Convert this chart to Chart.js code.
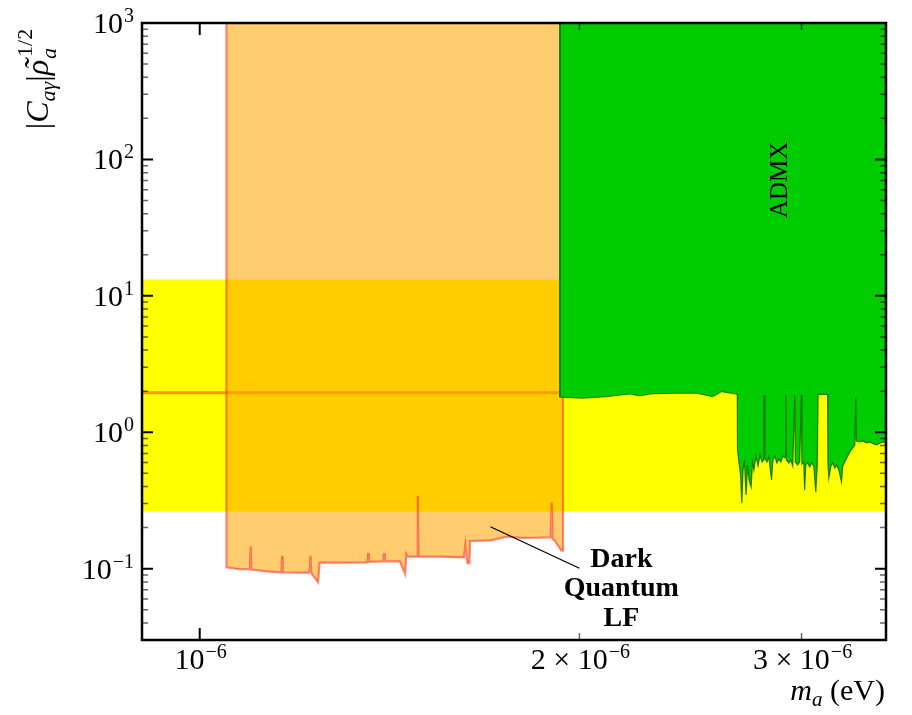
<!DOCTYPE html>
<html>
<head>
<meta charset="utf-8">
<script src="https://cdn.jsdelivr.net/npm/chart.js@4.4.1/dist/chart.umd.min.js"></script>
<style>
  html, body { margin: 0; padding: 0; background: #fff; }
  #wrap { width: 912px; height: 715px; }
</style>
</head>
<body>
<div id="wrap"><canvas id="c" width="912" height="715"></canvas></div>
<script>
'use strict';
// ---- axis ranges (eV on x, coupling on y) ----
const X_MIN = 9.0e-7, X_MAX = 3.5e-6;
const Y_MIN = 0.03, Y_MAX = 1000;

// ---- tick labels ----
const yTickValues = [0.1, 1, 10, 100, 1000];
const yTickExps   = ['\u22121', '0', '1', '2', '3'];
const xTickValues = [1e-6, 2e-6, 3e-6];
const xTickPrefix = ['', '2 \u00d7 ', '3 \u00d7 '];
const xTickExps   = ['\u22126', '\u22126', '\u22126'];
const xTickMajor  = [true, false, false];

// ---- yellow band ----
const bandMass = [8.0e-7, 4.0e-6];
const bandTop = [13.2, 13.2];
const bandBottom = 0.262;

// ---- horizontal limit line ----
const hlineMass = [8.0e-7, 1.941e-6];
const hlineCoupling = [1.95, 1.95];

// ---- Dark Quantum LF exclusion (lower edge, filled upward) ----
const dqMass = [1.050e-6, 1.050e-6, 1.075e-6, 1.096e-6, 1.0975e-6, 1.099e-6, 1.130e-6, 1.161e-6, 1.1622e-6,
  1.1635e-6, 1.200e-6, 1.222e-6, 1.2241e-6, 1.226e-6, 1.234e-6, 1.2411e-6, 1.2448e-6, 1.300e-6, 1.358e-6,
  1.360e-6, 1.362e-6, 1.398e-6, 1.400e-6, 1.402e-6, 1.441e-6, 1.455e-6, 1.458e-6, 1.462e-6, 1.487e-6,
  1.489e-6, 1.491e-6, 1.550e-6, 1.620e-6, 1.624e-6, 1.630e-6, 1.636e-6, 1.638e-6, 1.700e-6, 1.752e-6,
  1.800e-6, 1.860e-6, 1.898e-6, 1.901e-6, 1.904e-6, 1.912e-6, 1.935e-6, 1.941e-6, 1.941e-6];
const dqCoupling = [1000, 0.1023, 0.0990, 0.0990, 0.145, 0.0985, 0.0955, 0.0941, 0.1245,
  0.0941, 0.0935, 0.0935, 0.124, 0.0925, 0.0855, 0.0795, 0.1107, 0.1107, 0.111,
  0.1297, 0.112, 0.113, 0.1297, 0.1135, 0.113, 0.0916, 0.128, 0.1225, 0.1225,
  0.341, 0.1225, 0.1225, 0.121, 0.149, 0.1096, 0.1096, 0.1596, 0.161, 0.1717,
  0.168, 0.1687, 0.170, 0.305, 0.165, 0.1604, 0.1355, 0.1355, 1000];

// ---- ADMX: broad run (edge near 1.8-1.9) ----
const admxAMass = [1.930e-6, 1.930e-6, 2.012e-6, 2.101e-6, 2.193e-6, 2.234e-6, 2.275e-6, 2.372e-6, 2.477e-6,
  2.551e-6, 2.593e-6, 2.668e-6, 2.798e-6, 2.911e-6, 2.972e-6, 3.140e-6, 3.217e-6, 3.312e-6, 3.398e-6,
  3.504e-6, 3.557e-6];
const admxACoupling = [1000, 1.806, 1.776, 1.824, 1.909, 1.845, 1.909, 1.932, 1.932,
  1.824, 1.985, 1.899, 1.845, 1.845, 1.899, 1.899, 1.966, 1.794, 1.877,
  1.877, 1.877];

// ---- ADMX: deep run 2.67-3.5 ueV ----
const admxBMass = [2.668e-6, 2.669e-6, 2.676e-6, 2.684e-6, 2.690e-6, 2.696e-6, 2.703e-6, 2.711e-6, 2.718e-6,
  2.726e-6, 2.736e-6, 2.743e-6, 2.750e-6, 2.760e-6, 2.771e-6, 2.781e-6, 2.791e-6, 2.799e-6, 2.801e-6,
  2.805e-6, 2.806e-6, 2.816e-6, 2.826e-6, 2.840e-6, 2.847e-6, 2.857e-6, 2.868e-6, 2.878e-6, 2.889e-6,
  2.899e-6, 2.913e-6, 2.915e-6, 2.918e-6, 2.931e-6, 2.942e-6, 2.952e-6, 2.963e-6, 2.966e-6, 2.979e-6,
  2.990e-6, 2.999e-6, 3.002e-6, 3.012e-6, 3.017e-6, 3.023e-6, 3.034e-6, 3.045e-6, 3.056e-6, 3.068e-6,
  3.079e-6, 3.087e-6, 3.092e-6, 3.146e-6, 3.148e-6, 3.153e-6, 3.165e-6, 3.176e-6, 3.188e-6, 3.199e-6,
  3.211e-6, 3.227e-6, 3.234e-6, 3.246e-6, 3.258e-6, 3.276e-6, 3.294e-6, 3.306e-6, 3.312e-6, 3.315e-6,
  3.336e-6, 3.355e-6, 3.379e-6, 3.398e-6, 3.423e-6, 3.442e-6, 3.461e-6, 3.486e-6, 3.512e-6, 3.557e-6];
const admxBCoupling = [1.899, 0.742, 0.606, 0.486, 0.303, 0.529, 0.626, 0.347, 0.576,
  0.447, 0.397, 0.606, 0.529, 0.670, 0.566, 0.682, 0.606, 0.626, 1.845,
  1.845, 0.648, 0.606, 0.659, 0.447, 0.626, 0.670, 0.596, 0.637, 0.606,
  0.670, 0.648, 1.877, 0.626, 0.596, 0.626, 0.566, 1.877, 0.606, 0.576,
  0.606, 1.877, 0.586, 0.606, 0.376, 0.576, 0.596, 0.557, 0.596, 0.566,
  0.365, 0.576, 1.899, 1.899, 0.606, 0.462, 0.566, 0.596, 0.547, 0.576,
  0.529, 0.432, 0.566, 0.606, 0.648, 0.717, 0.767, 0.807, 1.794, 0.864,
  0.849, 0.864, 0.835, 0.849, 0.821, 0.807, 0.835, 0.849, 0.821, 0.835];

// ---- annotations (data coords) ----
const admxLabelAt = [2.884e-6, 70.8];
const dqLabelLines = ['Dark', 'Quantum', 'LF'];
const dqLabelAt = [2.159e-6, 0.103];
const dqLeader = [[1.70e-6, 0.203], [2.0e-6, 0.1007]];

const pts = (xs, ys) => xs.map((x, i) => ({ x: x, y: ys[i] }));
const SERIF = '"Liberation Serif", "Times New Roman", serif';
const fnt = (size, style) => (style ? style + ' ' : '') + size + 'px ' + SERIF;

// draw "prefix10^exp" with a raised exponent
function drawPow(ctx, prefix, exp, x, baseline, align) {
  ctx.font = fnt(30);
  const w1 = ctx.measureText(prefix + '10').width;
  ctx.font = fnt(20);
  const w2 = ctx.measureText(exp).width;
  const total = w1 + 1 + w2;
  const x0 = align === 'right' ? x - total : x - total / 2;
  ctx.textAlign = 'left';
  ctx.font = fnt(30); ctx.fillText(prefix + '10', x0, baseline);
  ctx.font = fnt(20); ctx.fillText(exp, x0 + w1 + 1, baseline - 11);
}

const decor = {
  id: 'decor',
  afterDraw(chart) {
    const ctx = chart.ctx, a = chart.chartArea;
    const xs = chart.scales.x, ys = chart.scales.y;
    ctx.save();
    ctx.fillStyle = '#000';
    ctx.textBaseline = 'alphabetic';

    // minor y ticks (2..9 in each decade)
    ctx.strokeStyle = 'rgba(0,0,0,0.6)';
    ctx.lineWidth = 1.5;
    for (let d = -2; d <= 2; d++) {
      for (let k = 2; k <= 9; k++) {
        const v = k * Math.pow(10, d);
        if (v <= Y_MIN || v >= Y_MAX) continue;
        const py = ys.getPixelForValue(v);
        ctx.beginPath();
        ctx.moveTo(a.left, py); ctx.lineTo(a.left + 6, py);
        ctx.moveTo(a.right, py); ctx.lineTo(a.right - 6, py);
        ctx.stroke();
      }
    }
    // major y ticks + labels
    ctx.strokeStyle = '#000';
    ctx.lineWidth = 2;
    yTickValues.forEach((v, i) => {
      const py = ys.getPixelForValue(v);
      ctx.beginPath();
      ctx.moveTo(a.left, py); ctx.lineTo(a.left + 11, py);
      ctx.moveTo(a.right, py); ctx.lineTo(a.right - 11, py);
      ctx.stroke();
      drawPow(ctx, '', yTickExps[i], 134, py + 10, 'right');
    });
    // x ticks + labels
    xTickValues.forEach((v, i) => {
      const px = xs.getPixelForValue(v);
      const len = xTickMajor[i] ? 12 : 7;
      ctx.strokeStyle = xTickMajor[i] ? '#000' : 'rgba(0,0,0,0.6)';
      ctx.lineWidth = xTickMajor[i] ? 2 : 1.5;
      ctx.beginPath();
      ctx.moveTo(px, a.bottom); ctx.lineTo(px, a.bottom - len);
      ctx.moveTo(px, a.top); ctx.lineTo(px, a.top + len);
      ctx.stroke();
      drawPow(ctx, xTickPrefix[i], xTickExps[i], px + 1, 669, 'center');
    });

    // frame
    ctx.strokeStyle = '#000';
    ctx.lineWidth = 2.5;
    ctx.strokeRect(a.left, a.top, a.right - a.left, a.bottom - a.top);

    // x title: m_a (eV)
    ctx.textAlign = 'left';
    ctx.font = fnt(30, 'italic'); const wm = ctx.measureText('m').width;
    ctx.font = fnt(21, 'italic'); const wa = ctx.measureText('a').width;
    ctx.font = fnt(30); const we = ctx.measureText(' (eV)').width;
    let tx = 885 - (wm + wa + we);
    ctx.font = fnt(30, 'italic'); ctx.fillText('m', tx, 700); tx += wm;
    ctx.font = fnt(21, 'italic'); ctx.fillText('a', tx, 706); tx += wa;
    ctx.font = fnt(30); ctx.fillText(' (eV)', tx, 700);

    // y title: |C_a\gamma| rho~_a^{1/2}
    ctx.save();
    ctx.translate(48, 79);
    ctx.rotate(-Math.PI / 2);
    const runs = [
      { t: '|', f: fnt(32), dy: 0 },
      { t: 'C', f: fnt(32, 'italic'), dy: 0 },
      { t: 'a\u03b3', f: fnt(22, 'italic'), dy: 7 },
      { t: '|', f: fnt(32), dy: 0 },
      { t: '\u03c1', f: fnt(32, 'italic'), dy: 0 }
    ];
    let total = 0;
    runs.forEach(r => { ctx.font = r.f; r.w = ctx.measureText(r.t).width; total += r.w; });
    ctx.font = fnt(22); const wHalf = ctx.measureText('1/2').width;
    total += wHalf + 3;
    let rx = -total / 2;
    runs.forEach(r => {
      ctx.font = r.f; ctx.fillText(r.t, rx, r.dy);
      if (r.t === '\u03c1') {
        ctx.textAlign = 'center';
        ctx.fillText('\u02dc', rx + r.w / 2 + 3, -2);
        ctx.textAlign = 'left';
      }
      rx += r.w;
    });
    ctx.font = fnt(22, 'italic'); ctx.fillText('a', rx + 1, 8);
    ctx.font = fnt(22); ctx.fillText('1/2', rx + 3, -16);
    ctx.restore();

    // ADMX label
    ctx.save();
    ctx.translate(xs.getPixelForValue(admxLabelAt[0]), ys.getPixelForValue(admxLabelAt[1]));
    ctx.rotate(-Math.PI / 2);
    ctx.textAlign = 'center';
    ctx.textBaseline = 'middle';
    ctx.font = fnt(25);
    ctx.fillText('ADMX', 0, 0);
    ctx.restore();

    // Dark Quantum LF label + leader
    ctx.strokeStyle = '#000';
    ctx.lineWidth = 1.3;
    ctx.beginPath();
    ctx.moveTo(xs.getPixelForValue(dqLeader[0][0]), ys.getPixelForValue(dqLeader[0][1]));
    ctx.lineTo(xs.getPixelForValue(dqLeader[1][0]), ys.getPixelForValue(dqLeader[1][1]));
    ctx.stroke();
    ctx.textAlign = 'center';
    ctx.font = fnt(28, 'bold');
    const lx = xs.getPixelForValue(dqLabelAt[0]);
    const ly = ys.getPixelForValue(dqLabelAt[1]);
    dqLabelLines.forEach((s, i) => ctx.fillText(s, lx, ly + i * 29.5));

    ctx.restore();
  }
};

new Chart(document.getElementById('c'), {
  type: 'line',
  data: {
    datasets: [
      { // yellow band
        data: pts(bandMass, bandTop), order: 5,
        fill: { value: bandBottom }, backgroundColor: '#ffff00', borderWidth: 0
      },
      { // horizontal limit
        data: pts(hlineMass, hlineCoupling), order: 4, fill: false,
        borderColor: 'rgba(255,60,0,0.55)', borderWidth: 3
      },
      { // Dark Quantum LF
        data: pts(dqMass, dqCoupling), order: 3, fill: 'end',
        backgroundColor: 'rgba(255,166,0,0.56)', borderColor: 'rgba(255,20,20,0.5)', borderWidth: 2.2
      },
      { // ADMX broad
        data: pts(admxAMass, admxACoupling), order: 2, fill: 'end',
        backgroundColor: '#00cc00', borderColor: 'rgba(0,110,0,0.8)', borderWidth: 1
      },
      { // ADMX deep
        data: pts(admxBMass, admxBCoupling), order: 1, fill: 'end',
        backgroundColor: '#00cc00', borderColor: 'rgba(20,100,0,0.85)', borderWidth: 1.2
      }
    ]
  },
  options: {
    responsive: false,
    animation: false,
    devicePixelRatio: 1,
    layout: { padding: { left: 142, top: 23, right: 26, bottom: 75 } },
    plugins: { legend: { display: false }, tooltip: { enabled: false } },
    elements: { point: { radius: 0 }, line: { tension: 0 } },
    scales: {
      x: { type: 'logarithmic', min: X_MIN, max: X_MAX, display: false },
      y: { type: 'logarithmic', min: Y_MIN, max: Y_MAX, display: false }
    }
  },
  plugins: [decor]
});
</script>
</body>
</html>
